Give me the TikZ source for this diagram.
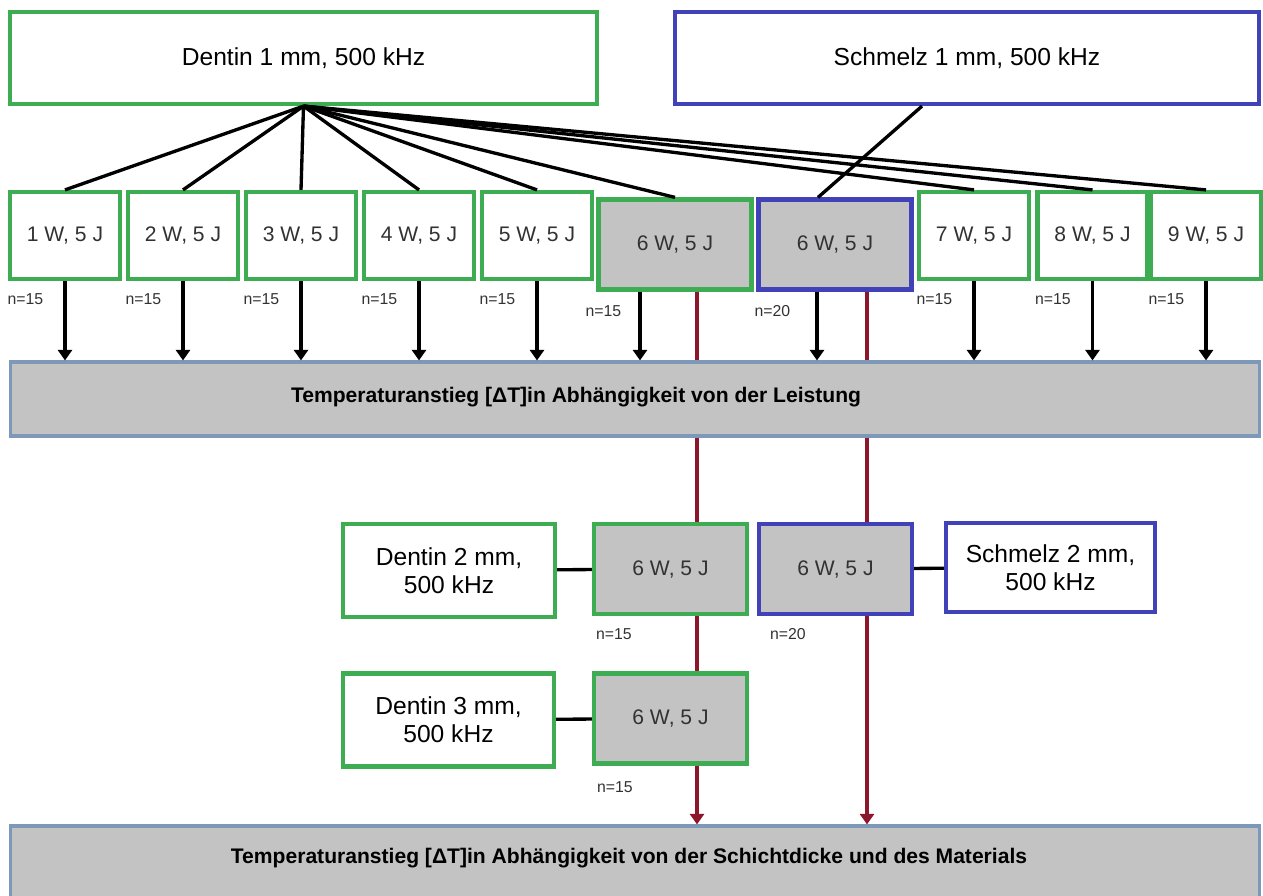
\documentclass[tikz,border=0pt]{standalone}
\usepackage{fontspec}
\setmainfont{Liberation Sans}
\usetikzlibrary{arrows.meta,positioning}
\definecolor{dgreen}{RGB}{62,172,82}
\definecolor{dblue}{RGB}{66,66,184}
\definecolor{dred}{RGB}{140,22,42}
\definecolor{boxgray}{RGB}{195,195,195}
\definecolor{barblue}{RGB}{125,152,184}
\definecolor{txtgray}{RGB}{50,50,50}

\begin{document}
\begin{tikzpicture}[x=0.02cm,y=-0.02cm,
  box/.style={draw,line width=2.4pt,fill=white,align=center,inner sep=2pt},
  gbox/.style={box,draw=dgreen},
  bbox/.style={box,draw=dblue},
  small/.style={minimum width=2.2cm,minimum height=1.74cm,font=\fontsize{12}{14}\selectfont,text=txtgray},
  six/.style={fill=boxgray,minimum width=3.06cm,minimum height=1.8cm,font=\fontsize{12}{14}\selectfont,text=txtgray},
  big/.style={font=\fontsize{14}{16}\selectfont},
  bar/.style={draw=barblue,fill=boxgray,line width=1.8pt,minimum width=25cm,minimum height=1.48cm},
  bartext/.style={font=\bfseries\fontsize{12}{14}\selectfont},
  nlab/.style={font=\fontsize{9}{10}\selectfont,inner sep=1pt,text=txtgray},
  link/.style={line width=1.9pt},
  arr/.style={line width=2pt,-{Triangle[width=8pt,length=6pt]}},
  rline/.style={draw=dred,line width=2pt},
  rarr/.style={rline,-{Triangle[width=8pt,length=6pt]}}]
\useasboundingbox (0,0) rectangle (1263,895);

\node[gbox,big,minimum width=11.74cm,minimum height=1.84cm] (d1) at (303.5,58) {Dentin 1 mm, 500 kHz};
\node[bbox,big,minimum width=11.68cm,minimum height=1.84cm] (s1) at (967,58) {Schmelz 1 mm, 500 kHz};

\node[gbox,small] (w1) at (65,235.5) {1 W, 5 J};
\node[gbox,small] (w2) at (183,235.5) {2 W, 5 J};
\node[gbox,small] (w3) at (301,235.5) {3 W, 5 J};
\node[gbox,small] (w4) at (419,235.5) {4 W, 5 J};
\node[gbox,small] (w5) at (537,235.5) {5 W, 5 J};
\node[gbox,six] (g6) at (675,244.5) {6 W, 5 J};
\node[bbox,six] (b6) at (835,244.5) {6 W, 5 J};
\node[gbox,small] (w7) at (974,235.5) {7 W, 5 J};
\node[gbox,small] (w8) at (1092.5,235.5) {8 W, 5 J};
\node[gbox,small] (w9) at (1206,235.5) {9 W, 5 J};

\node[nlab,below right=0.2cm and -0.05cm of w1.south west] (n1) {n=15};
\node[nlab,below right=0.2cm and -0.05cm of w2.south west] (n2) {n=15};
\node[nlab,below right=0.2cm and -0.05cm of w3.south west] (n3) {n=15};
\node[nlab,below right=0.2cm and -0.05cm of w4.south west] (n4) {n=15};
\node[nlab,below right=0.2cm and -0.05cm of w5.south west] (n5) {n=15};
\node[nlab,below right=0.24cm and -0.26cm of g6.south west] (ng) {n=15};
\node[nlab,below right=0.24cm and -0.08cm of b6.south west] (nb) {n=20};
\node[nlab,below right=0.2cm and -0.05cm of w7.south west] (n7) {n=15};
\node[nlab,below right=0.2cm and -0.05cm of w8.south west] (n8) {n=15};
\node[nlab,below right=0.2cm and -0.05cm of w9.south west] (n9) {n=15};

\node[bar] (bar1) at (635,399) {};
\node[bartext] (t1) at (576,397) {Temperaturanstieg [ΔT]in Abhängigkeit von der Leistung};

\node[gbox,big,minimum width=4.24cm,minimum height=1.86cm] (d2) at (449,570.5) {Dentin 2 mm,\\500 kHz};
\node[gbox,six] (g6b) at (670.5,569) {6 W, 5 J};
\node[bbox,six] (b6b) at (835.5,569) {6 W, 5 J};
\node[bbox,big,minimum width=4.18cm,minimum height=1.78cm] (s2) at (1050.5,567.5) {Schmelz 2 mm,\\500 kHz};
\node[nlab,below right=0.2cm and 0.04cm of g6b.south west] (ng2) {n=15};
\node[nlab,below right=0.2cm and 0.22cm of b6b.south west] (nb2) {n=20};

\node[gbox,big,minimum width=4.22cm,minimum height=1.86cm] (d3) at (448.5,720) {Dentin 3 mm,\\500 kHz};
\node[gbox,six] (g6c) at (670.5,718.5) {6 W, 5 J};
\node[nlab,below right=0.28cm and 0.06cm of g6c.south west] (ng3) {n=15};

\node[bar] (bar2) at (635,863) {};
\node[bartext] (t2) at (629,858) {Temperaturanstieg [ΔT]in Abhängigkeit von der Schichtdicke und des Materials};

\coordinate (kg) at (640,0);
\coordinate (rg) at (697,0);
\coordinate (kb) at (817,0);
\coordinate (rb) at (867,0);

\draw[link] (d1.south) -- (w1.north);
\draw[link] (d1.south) -- (w2.north);
\draw[link] (d1.south) -- (w3.north);
\draw[link] (d1.south) -- (w4.north);
\draw[link] (d1.south) -- (w5.north);
\draw[link] (d1.south) -- (g6.north);
\draw[link] (d1.south) -- (w7.north);
\draw[link] (d1.south) -- (w8.north);
\draw[link] (d1.south) -- (w9.north);
\draw[link] ([xshift=-0.9cm]s1.south) -- ([xshift=-0.34cm]b6.north);

\draw[arr] (w1.south) -- (w1.south |- bar1.north);
\draw[arr] (w2.south) -- (w2.south |- bar1.north);
\draw[arr] (w3.south) -- (w3.south |- bar1.north);
\draw[arr] (w4.south) -- (w4.south |- bar1.north);
\draw[arr] (w5.south) -- (w5.south |- bar1.north);
\draw[arr] (g6.south -| kg) -- (bar1.north -| kg);
\draw[arr] (b6.south -| kb) -- (bar1.north -| kb);
\draw[arr] (w7.south) -- (w7.south |- bar1.north);
\draw[arr] (w8.south) -- (w8.south |- bar1.north);
\draw[arr] (w9.south) -- (w9.south |- bar1.north);

\draw[rline] (g6.south -| rg) -- (bar1.north -| rg);
\draw[rline] (bar1.south -| rg) -- (g6b.north -| rg);
\draw[rline] (g6b.south -| rg) -- (g6c.north -| rg);
\draw[rarr] (g6c.south -| rg) -- (bar2.north -| rg);
\draw[rline] (b6.south -| rb) -- (bar1.north -| rb);
\draw[rline] (bar1.south -| rb) -- (b6b.north -| rb);
\draw[rarr] (b6b.south -| rb) -- (bar2.north -| rb);

\draw[link] (d2) -- (g6b);
\draw[link] (d3) -- (g6c);
\draw[link] (b6b) -- (s2);
\end{tikzpicture}
\end{document}
